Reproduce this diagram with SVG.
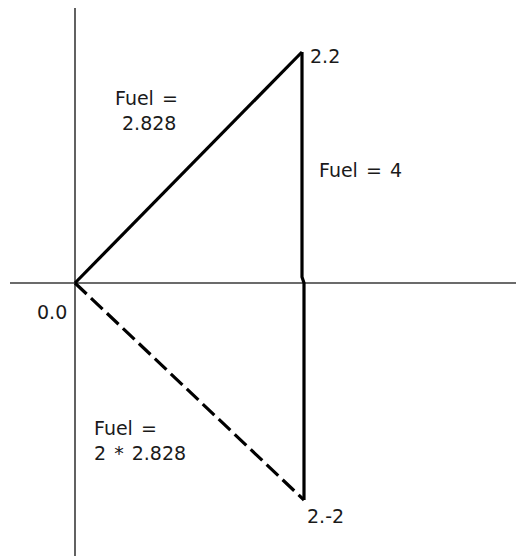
<svg xmlns="http://www.w3.org/2000/svg" width="516" height="556" viewBox="0 0 516 556">
<style>
.axis{stroke:#3a3a3a;stroke-width:1.6;fill:none}
.edge{stroke:#000;stroke-width:3.2;fill:none}
.dash{stroke-dasharray:16,6}
text{font-family:"DejaVu Sans",sans-serif;font-size:19px;word-spacing:2px;fill:#1a1a1a}
</style>
<rect width="516" height="556" fill="#fff"/>
<g id="axes">
<line class="axis" x1="75" y1="8" x2="75" y2="556"/>
<line class="axis" x1="10" y1="283" x2="516" y2="283"/>
</g>
<g id="connectors">
<line class="edge" x1="75" y1="283" x2="302" y2="52"/>
<polyline class="edge" points="302,52 302,277 304,283 304,500"/>
<line class="edge dash" x1="75" y1="283" x2="304" y2="500"/>
</g>
<g id="n22"><text x="310" y="63">2.2</text></g>
<g id="n00"><text x="37" y="319">0.0</text></g>
<g id="n2m2"><text x="307" y="523">2.-2</text></g>
<g id="l1"><text x="115" y="105">Fuel =</text><text x="122" y="130">2.828</text></g>
<g id="l2"><text x="319" y="177">Fuel = 4</text></g>
<g id="l3"><text x="94" y="435">Fuel =</text><text x="94" y="460">2 * 2.828</text></g>
</svg>
